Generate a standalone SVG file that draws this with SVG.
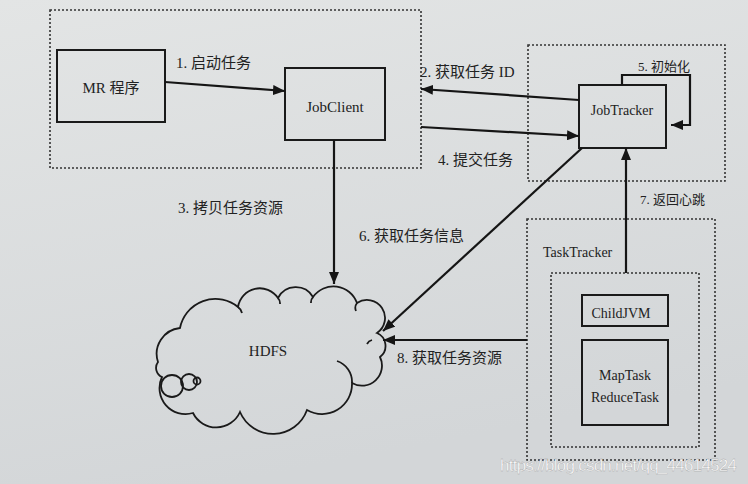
<svg xmlns="http://www.w3.org/2000/svg" width="748" height="484" viewBox="0 0 748 484">
<defs>
<linearGradient id="bg" x1="0" y1="0" x2="0.3" y2="1">
<stop offset="0" stop-color="#e3e5e5"/>
<stop offset="1" stop-color="#d3d6d8"/>
</linearGradient>
<marker id="ah" viewBox="0 0 12 10" refX="12" refY="5" markerWidth="12" markerHeight="10" markerUnits="userSpaceOnUse" orient="auto">
<path d="M0,0 L12,5 L0,10 Z" fill="#151515"/>
</marker>
<style>
.box{fill:none;stroke:#1a1a1a;stroke-width:2}
.dot{fill:none;stroke:#333;stroke-width:1.6;stroke-dasharray:2 2}
.ln{fill:none;stroke:#151515;stroke-width:2.2;marker-end:url(#ah)}
.t{font-family:"Liberation Serif","Noto Sans CJK SC",serif;font-size:15px;fill:#222}
.c{text-anchor:middle}
.cl{fill:none;stroke:#1a1a1a;stroke-width:1.8}
</style>
</defs>
<rect width="748" height="484" fill="url(#bg)"/>

<g id="client-area">
<rect class="dot" x="50" y="10" width="371" height="158"/>
</g>
<g id="mr">
<rect class="box" x="57" y="50" width="108" height="72"/>
<text class="t c" x="111" y="93">MR 程序</text>
</g>
<g id="jobclient">
<rect class="box" x="285" y="68" width="100" height="72"/>
<text class="t c" x="335" y="112">JobClient</text>
</g>
<g id="jobtracker-area">
<rect class="dot" x="528" y="45" width="197" height="136"/>
</g>
<g id="jobtracker">
<rect class="box" x="579" y="85" width="87" height="63"/>
<text class="t c" x="622" y="115" style="font-size:14px">JobTracker</text>
</g>
<g id="tasktracker">
<rect class="dot" x="527" y="219" width="188" height="241"/>
<text class="t" x="543" y="257" style="font-size:14px">TaskTracker</text>
<rect class="dot" x="551" y="273" width="148" height="174"/>
</g>
<g id="childjvm">
<rect class="box" x="582" y="295" width="86" height="31"/>
<text class="t c" x="621" y="318" style="font-size:14px">ChildJVM</text>
</g>
<g id="tasks">
<rect class="box" x="582" y="340" width="86" height="85"/>
<text class="t c" x="625" y="380" style="font-size:14px">MapTask</text>
<text class="t c" x="625" y="402" style="font-size:14px">ReduceTask</text>
</g>
<g id="hdfs">
<path class="cl" d="M158,362 A26,26 0 0,1 180,328 A36,36 0 0,1 238,307 A22,22 0 0,1 278,298 A20,20 0 0,1 313,297 A25,25 0 0,1 357,303 A18,18 0 0,1 377,333 A14,14 0 0,1 380,357 A20,20 0 0,1 352,383 A30,30 0 0,1 307,410 A36,36 0 0,1 240,412 A26,26 0 0,1 193,413 A26,26 0 0,1 162,377 A10,10 0 0,1 158,362 Z"/>
<path class="cl" d="M238,307 A10,10 0 0,1 242,313 M278,298 A8,8 0 0,1 280,304 M313,297 A8,8 0 0,0 311,303 M357,303 A8,8 0 0,0 356,311 M372,340 A8,8 0 0,0 367,344 M337,361 A22,22 0 0,1 352,383"/>
<circle class="cl" cx="172" cy="386" r="11"/>
<circle class="cl" cx="189" cy="382" r="8"/>
<circle class="cl" cx="197" cy="381" r="3.5"/>
<text class="t c" x="268" y="356">HDFS</text>
</g>

<g id="connectors">
<line class="ln" x1="165" y1="82" x2="285" y2="91"/>
<line class="ln" x1="579" y1="100" x2="421" y2="89"/>
<line class="ln" x1="421" y1="127" x2="579" y2="136"/>
<line class="ln" x1="334" y1="140" x2="334" y2="284"/>
<line class="ln" x1="582" y1="148" x2="383" y2="331"/>
<line class="ln" x1="626" y1="273" x2="626" y2="148"/>
<line class="ln" x1="527" y1="340" x2="383" y2="340"/>
<polyline class="ln" points="622,85 622,75 690,75 690,125 671,125"/>
</g>

<g id="labels">
<text class="t" x="176" y="68">1. 启动任务</text>
<text class="t" x="420" y="77">2. 获取任务 ID</text>
<text class="t" x="178" y="213">3. 拷贝任务资源</text>
<text class="t" x="438" y="165">4. 提交任务</text>
<text class="t" x="638" y="71" style="font-size:13px">5. 初始化</text>
<text class="t" x="359" y="241">6. 获取任务信息</text>
<text class="t" x="640" y="204" style="font-size:13px">7. 返回心跳</text>
<text class="t" x="397" y="363">8. 获取任务资源</text>
</g>
<text x="500" y="471" textLength="237" style="font-family:'Liberation Sans',Arial,sans-serif;font-size:17px;fill:#ffffff;stroke:#9a9a9a;stroke-width:0.3">https://blog.csdn.net/qq_44614524</text>
</svg>
